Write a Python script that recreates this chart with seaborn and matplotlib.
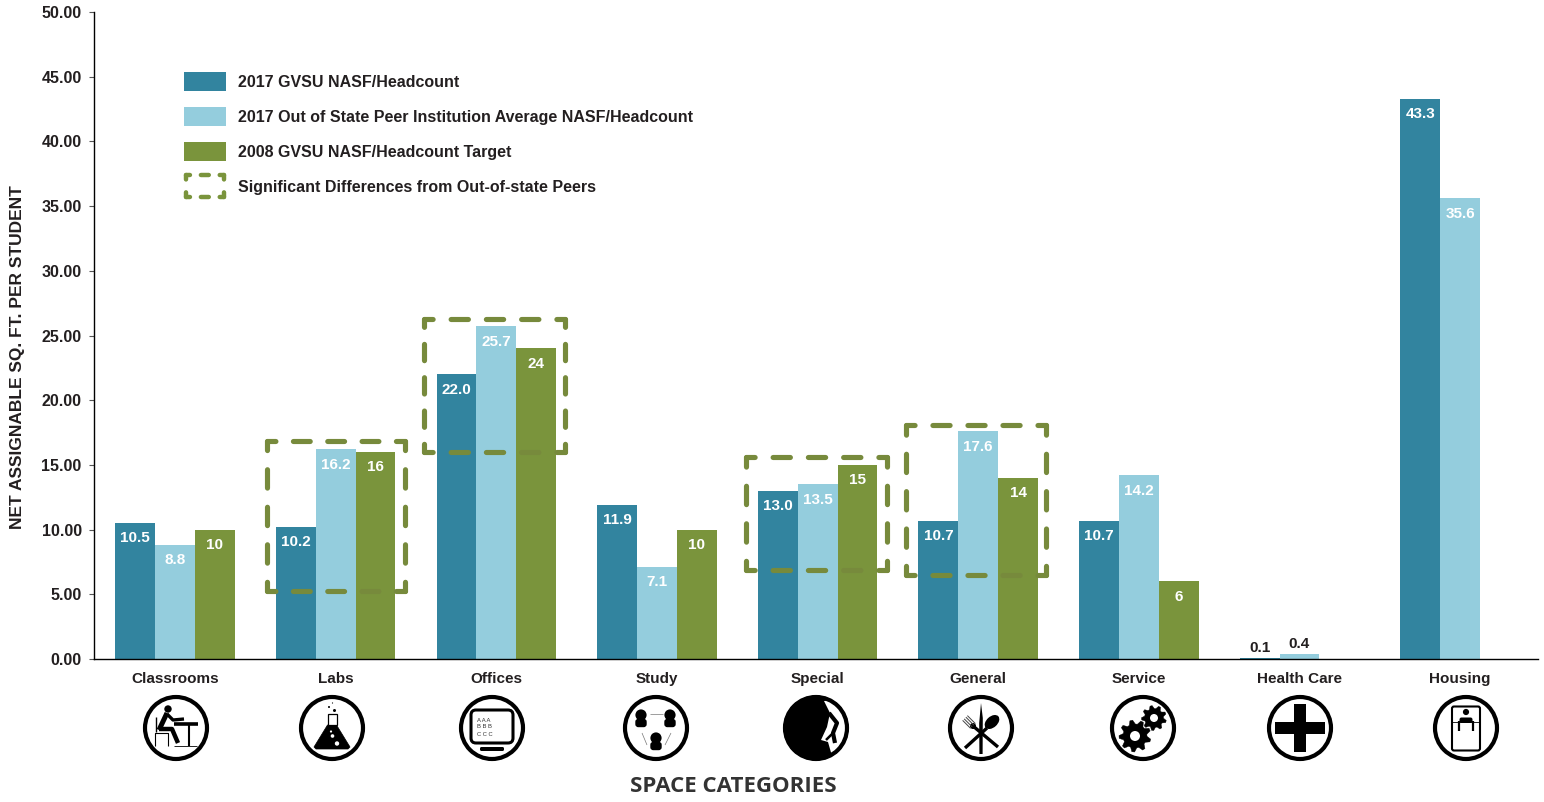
import numpy as np
import pandas as pd
import matplotlib
matplotlib.use('AGG')
import matplotlib.pyplot as plt
import seaborn as sns
from matplotlib.legend_handler import HandlerBase
from matplotlib.lines import Line2D
from matplotlib.patches import Circle, Ellipse, FancyBboxPatch, Patch, Polygon, Rectangle

categories = ['Classrooms', 'Labs', 'Offices', 'Study', 'Special', 'General',
              'Service', 'Health Care', 'Housing']
gvsu_2017 = [10.5, 10.2, 22.0, 11.9, 13.0, 10.7, 10.7, 0.1, 43.3]
peers_2017 = [8.8, 16.2, 25.7, 7.1, 13.5, 17.6, 14.2, 0.4, 35.6]
target_2008 = [10, 16, 24, 10, 15, 14, 6, None, None]

series_names = ['2017 GVSU NASF/Headcount',
                '2017 Out of State Peer Institution Average NASF/Headcount',
                '2008 GVSU NASF/Headcount Target']
box_label = 'Significant Differences from Out-of-state Peers'
colors = ['#32849F', '#94CDDD', '#7A943C']

# categories marked with a dashed box: index, sides around the category, bottom, top
box_index = [1, 2, 4, 5]
box_left = [-0.425, -0.448, -0.448, -0.448]
box_right = [0.43, 0.43, 0.43, 0.424]
box_bottom = [5.25, 16.0, 6.9, 6.5]
box_top = [16.85, 26.3, 15.6, 18.05]

DARK = '#231f20'
BOX = '#778A3C'
W, H = 1544, 802

sns.set_theme(style='white')
plt.rcParams['font.family'] = ['Liberation Sans', 'DejaVu Sans']
plt.rcParams['font.weight'] = 'bold'
plt.rcParams['lines.scale_dashes'] = False
plt.rcParams['patch.force_edgecolor'] = False
plt.rcParams['patch.edgecolor'] = 'none'

df = pd.DataFrame({'category': categories * 3,
                   'series': np.repeat(series_names, len(categories)),
                   'value': gvsu_2017 + peers_2017 + target_2008})

fig = plt.figure(figsize=(W / 100, H / 100), dpi=100)
ax = fig.add_axes([94 / W, 1 - 659 / H, 1444 / W, 647 / H])
sns.barplot(data=df, x='category', y='value', hue='series', hue_order=series_names,
            palette=colors, saturation=1, width=0.744, gap=0, linewidth=0, legend=False, ax=ax)

ax.set_xlim(-0.505, 8.485)
ax.set_ylim(0, 50)
ax.set_yticks(np.arange(0, 51, 5))
ax.set_yticklabels([f'{v:.2f}' for v in np.arange(0, 51, 5)], fontsize=11.5, color=DARK)
ax.tick_params(axis='y', length=3.4, width=0.8, color='#555555', pad=5.5, left=True)
ax.tick_params(axis='x', length=0, pad=9.5, labelsize=11, labelcolor=DARK)
sns.despine(ax=ax)
for side in ['left', 'bottom']:
    ax.spines[side].set_color('black')
    ax.spines[side].set_linewidth(1)

ax.set_xlabel('SPACE CATEGORIES', fontsize=16, color='#333333', family='Open Sans', weight='bold')
ax.set_ylabel('NET ASSIGNABLE SQ. FT. PER STUDENT', fontsize=12.5, color=DARK, weight='bold')
ax.xaxis.set_label_coords((733 - 94) / 1444, -(787 - 659) / 647)
ax.xaxis.label.set_verticalalignment('center')
ax.yaxis.set_label_coords((18 - 94) / 1444, (659 - 357) / 647)
ax.yaxis.label.set_verticalalignment('center')

# value labels, inside the bar except the tiny health care ones
for cont, vals, is_target in zip(ax.containers, [gvsu_2017, peers_2017, target_2008], [0, 0, 1]):
    bars = [b for b in cont if b is not None and not np.isnan(b.get_height())]
    vals = [v for v in vals if v is not None]
    for bar, v in zip(bars, vals):
        text = str(v) if is_target else f'{v:.1f}'
        inside = v >= 1
        ax.annotate(text, (bar.get_x() + bar.get_width() / 2, bar.get_height()),
                    xytext=(0, -11 if inside else 7), textcoords='offset points',
                    ha='center', va='center', fontsize=11, weight='bold',
                    color='white' if inside else DARK, zorder=4)


def dash_style(length, period_wanted, frac=0.49):
    # fits the dash period to a side (in points) so each corner gets a dash
    n = max(round(length / period_wanted), 1)
    period = length / n
    on = period * frac
    return (on / 2, (on, period - on))


def dashed_side(x0, y0, x1, y1):
    p0, p1 = ax.transData.transform([(x0, y0), (x1, y1)])
    length = np.hypot(*(p1 - p0)) * 72 / 100
    ax.plot([x0, x1], [y0, y1], color=BOX, lw=3.7, dash_capstyle='round',
            clip_on=False, zorder=5, linestyle=dash_style(length, 24.5))


for i, dl, dr, low, high in zip(box_index, box_left, box_right, box_bottom, box_top):
    left, right = i + dl, i + dr
    dashed_side(left, high, right, high)
    dashed_side(left, low, right, low)
    dashed_side(left, low, left, high)
    dashed_side(right, low, right, high)


class DashedBoxHandler(HandlerBase):
    def create_artists(self, legend, orig_handle, xdescent, ydescent, width, height, fontsize, trans):
        x0, x1 = 1.5 - xdescent, width - 1.5 - xdescent
        mid = height / 2 - ydescent
        y0, y1 = mid - 8, mid + 8
        sides = [([x0, x1], [y0, y0]), ([x0, x1], [y1, y1]), ([x0, x0], [y0, y1]), ([x1, x1], [y0, y1])]
        artists = []
        for xs, ys in sides:
            length = abs(xs[1] - xs[0]) + abs(ys[1] - ys[0])
            artists.append(Line2D(xs, ys, color='#7A943C', lw=3.2, transform=trans, dash_capstyle='round',
                                  linestyle=dash_style(length, 13, 0.42)))
        return artists


box_handle = Patch(label=box_label)
handles = [Patch(facecolor=c, edgecolor='none') for c in colors] + [box_handle]
ax.legend(handles, series_names + [box_label], loc='upper left', frameon=False,
          bbox_to_anchor=(184 / W, 1 - 72 / H), bbox_transform=fig.transFigure,
          borderaxespad=0, borderpad=0, fontsize=11.5, handlelength=2.62, handleheight=1.425,
          handletextpad=0.75, labelspacing=1.02, labelcolor=DARK,
          handler_map={box_handle: DashedBoxHandler()})


# ---- icons under the axis, drawn in pixels around the icon centre (y down)
def icon_axes(cx):
    a = fig.add_axes([(cx - 34) / W, 1 - (728 + 34) / H, 68 / W, 68 / H])
    a.set_xlim(-34, 34)
    a.set_ylim(34, -34)
    a.axis('off')
    return a


def ring(a):
    a.add_patch(Circle((0, 0), 31, fc='none', ec='black', lw=3, zorder=6))


def poly(a, xs, ys, lw=2.5, color='black'):
    a.plot(xs, ys, color=color, lw=lw, solid_capstyle='butt', solid_joinstyle='round')


def classroom(a):
    a.add_patch(Circle((-8, -19), 3.7, fc='black'))
    poly(a, [-9, -17], [-15, 2], 3.6)
    poly(a, [2, -4, -17], [15, 1, 1], 3.2)
    poly(a, [-9, -3, 8], [-14, -8, -9], 2.4)
    poly(a, [-2, 22], [-4, -4], 2.6)
    poly(a, [13, 13], [-4, 18], 1.5)
    poly(a, [-2, 21], [18, 18], 0.6)
    poly(a, [-20, -20], [-11, 4], 1)
    poly(a, [-21, -21, -8, -8], [18, 5, 5, 18], 0.8)


def labs(a):
    a.add_patch(Polygon([(-4.5, -3), (4.5, -3), (18, 19), (16, 21), (-16, 21), (-18, 19)],
                        fc='black', ec='black', lw=0.5, joinstyle='round'))
    a.add_patch(Rectangle((-4.5, -14), 9, 11, fc='white', ec='black', lw=0.9))
    for x, y, r, c in [(2.5, -17.5, 1.5, 'black'), (-3, -21, 1, 'black'), (0.5, -25, 0.6, 'black'),
                       (0.5, 8, 1.8, 'white'), (5, 15.5, 2.2, 'white'), (-1, 3.5, 1.1, 'white')]:
        a.add_patch(Circle((x, y), r, fc=c))


def offices(a):
    a.add_patch(FancyBboxPatch((-18, -15), 36, 27, boxstyle='round,pad=3,rounding_size=5',
                               fc='white', ec='black', lw=2.2))
    a.add_patch(FancyBboxPatch((-11, 20), 22, 2, boxstyle='round,pad=1,rounding_size=1.5', fc='black', ec='none'))
    for y, t in zip([-8, -1, 6], ['A A A', 'B B B', 'C C C']):
        a.text(-15, y, t, fontsize=4.2, weight='normal', color='#333333', va='center', ha='left')


def person(a, x, y):
    a.add_patch(Circle((x, y), 5.6, fc='black'))
    a.add_patch(FancyBboxPatch((x - 4.5, y + 5), 9, 6, boxstyle='round,pad=1.2,rounding_size=3', fc='black', ec='none'))


def study(a):
    person(a, -15, -13)
    person(a, 14, -13)
    person(a, 0, 10)
    for xs, ys in [([-6, 7], [-14, -14]), ([-14, -9], [5, 17]), ([15, 9], [5, 17])]:
        poly(a, xs, ys, 0.5, '#777777')


def special(a):
    a.add_patch(Circle((0, 0), 32.5, fc='black'))
    rock = [(8, -27), (14, -15), (11, -1), (5, 12), (12, 14), (16, 28), (40, 30), (40, -30)]
    white = Polygon(rock, fc='white', ec='none')
    a.add_patch(white)
    white.set_clip_path(Circle((0, 0), 31, transform=a.transData))
    poly(a, [13, 21, 17, 19], [-15, -5, 5, 15], 3)
    poly(a, [17, 10], [5, 12], 1.8)


def general(a):
    a.add_patch(Polygon([(0, -25), (1.8, -10), (1.6, 26), (-1.6, 26), (-1.8, -5)], fc='black'))
    poly(a, [6, -16], [0, 20], 2.4)
    a.add_patch(Ellipse((11, -6), 17, 11, angle=-42, fc='black'))
    poly(a, [-8, 17], [-2, 19], 2.4)
    for off in [-3.4, -1.2, 1.2, 3.4]:
        poly(a, [-8 + off * 0.7, -16 + off * 0.7], [-2 - off * 0.7, -10 - off * 0.7], 0.7, '#444444')
    a.add_patch(Circle((-8, -2), 3, fc='black'))


def gear(a, x, y, outer, inner, hole, teeth):
    angles = np.linspace(0, 2 * np.pi, teeth * 4, endpoint=False) + 0.2
    radii = np.tile([outer, outer, inner, inner], teeth)
    a.add_patch(Polygon(np.c_[x + radii * np.cos(angles), y + radii * np.sin(angles)],
                        fc='black', ec='black', lw=0.3, joinstyle='round'))
    a.add_patch(Circle((x, y), hole, fc='white'))


def service(a):
    gear(a, -8, 8, 16, 12, 5, 9)
    gear(a, 11, -10, 12.5, 9.5, 4, 9)


def health(a):
    a.add_patch(Rectangle((-6, -24), 12, 48, fc='black'))
    a.add_patch(Rectangle((-25, -6), 50, 12, fc='black'))


def housing(a):
    a.add_patch(FancyBboxPatch((-12.5, -20), 25, 41, boxstyle='round,pad=1.5,rounding_size=2',
                               fc='white', ec='black', lw=1.5))
    poly(a, [-14, 14], [-6, -6], 0.6)
    a.add_patch(Circle((0, -16), 3.1, fc='black'))
    a.add_patch(FancyBboxPatch((-6, -10), 12, 4.5, boxstyle='round,pad=0.5,rounding_size=2', fc='black', ec='none'))
    poly(a, [-7, -7], [-7, 3], 1.6)
    poly(a, [7, 7], [-7, 3], 1.6)


icon_centers = [176, 332, 492, 656, 816, 981, 1143, 1300, 1466]
icon_draw = [classroom, labs, offices, study, special, general, service, health, housing]
for cx, draw in zip(icon_centers, icon_draw):
    icon = icon_axes(cx)
    draw(icon)
    ring(icon)

plt.savefig('out.png', dpi=100)
